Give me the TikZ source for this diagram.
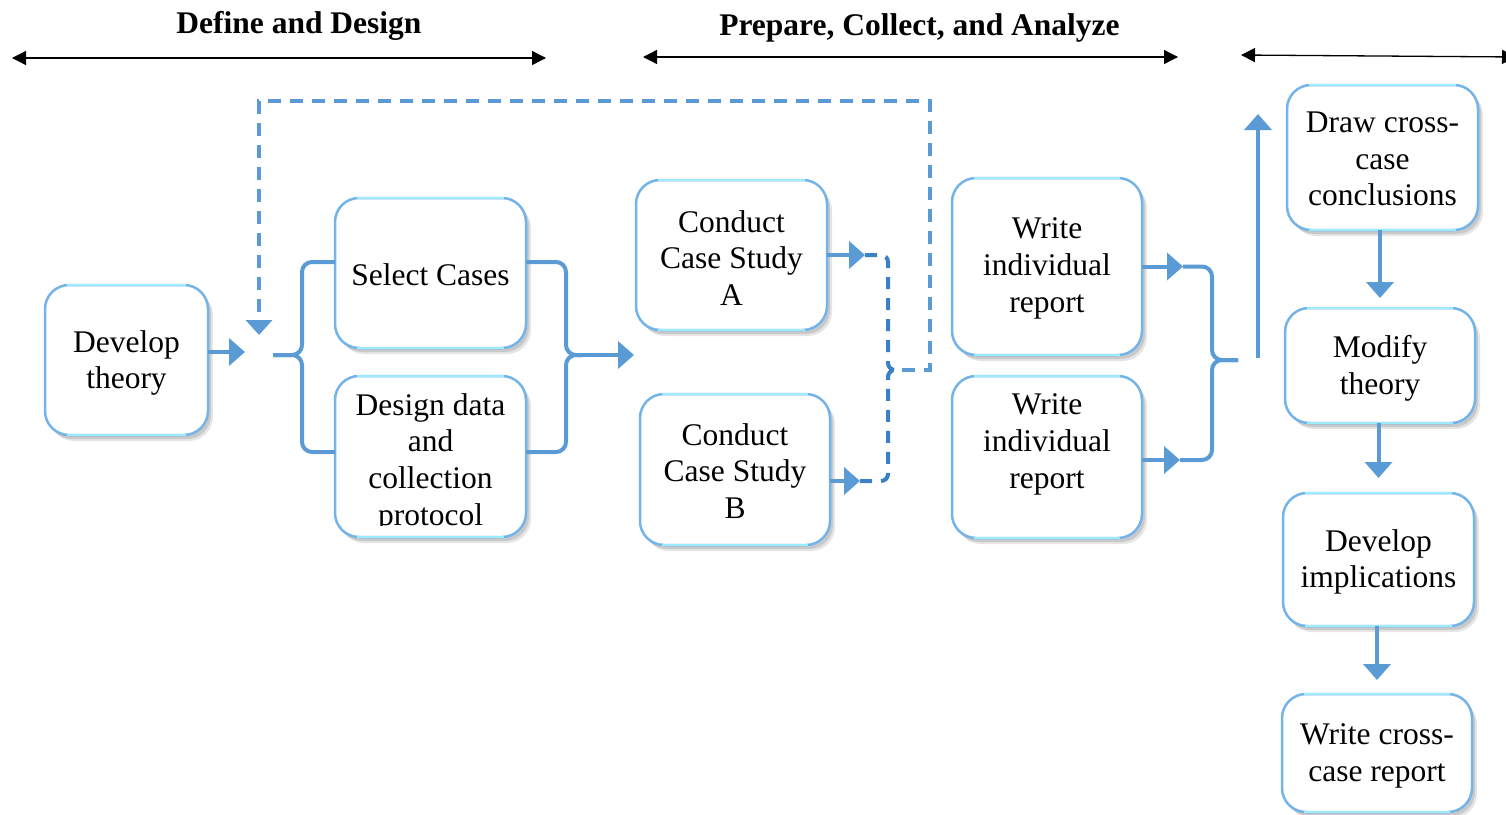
\documentclass[tikz,border=0pt]{standalone}
\usepackage{fontspec}
\setmainfont{Liberation Serif}
\usetikzlibrary{arrows.meta,shadows,calc}
\definecolor{boxc}{HTML}{74B4E8}
\definecolor{boxtop}{HTML}{9CEBFD}
\definecolor{linec}{HTML}{5B9BD5}
\definecolor{darkdash}{HTML}{3B7FC4}
\begin{document}
\begin{tikzpicture}[x=1pt,y=-1pt,
  box/.style={draw=boxc, line width=2.5pt, rounded corners=24pt, fill=white,
    inner sep=0pt, outer sep=0pt, align=center, font=\fontsize{31.5}{37}\selectfont,
    drop shadow={shadow xshift=3pt,shadow yshift=-4pt,opacity=0.12,fill=black},
    drop shadow={shadow xshift=5pt,shadow yshift=-6pt,opacity=0.10,fill=black}},
  txt/.style={inner sep=0pt, align=center, font=\fontsize{31.5}{36.7}\selectfont},
  hdr/.style={inner sep=0pt, font=\bfseries\fontsize{31.5}{37}\selectfont},
  harrow/.style={line width=1.3pt, {Triangle[length=14pt,width=14pt]}-{Triangle[length=14pt,width=14pt]}},
  arr/.style={draw=linec, line width=4pt, -{Triangle[length=16pt,width=27pt]}},
  brace/.style={draw=linec, line width=4pt, rounded corners=10pt},
  dbrace/.style={draw=darkdash, line width=4pt, rounded corners=7pt, dash pattern=on 12pt off 9pt},
  dashline/.style={draw=linec, line width=4pt, dash pattern=on 13pt off 9pt},
  edgehi/.style={draw=boxtop, line width=2.5pt}
]
\useasboundingbox (0,0) rectangle (1506,814);
\clip (0,0) rectangle (1506,814);

% headers
\node[hdr] (h1) at (299,25.5) {Define and Design};
\node[hdr] (h2) at (919.5,27.5) {Prepare, Collect, and Analyze};
\coordinate (a1l) at (12,58);   \coordinate (a1r) at (546,58);
\coordinate (a2l) at (643,57);  \coordinate (a2r) at (1178,57);
\coordinate (a3l) at (1241,55); \coordinate (a3r) at (1516,57);
\draw[harrow] (a1l) -- (a1r);
\draw[harrow] (a2l) -- (a2r);
\draw[harrow] (a3l) -- (a3r);

% boxes
\node[box, minimum width=163pt, minimum height=150pt] (dev) at (126.5,360) {};
\node[txt] (devt) at (126.5,363) {Develop\\theory};
\node[box, minimum width=191pt, minimum height=150pt] (sel) at (430.5,273) {};
\node[txt] (selt) at (430.5,275) {Select Cases};
\node[box, minimum width=191pt, minimum height=161pt] (des) at (430.5,456.5) {};
\begin{scope}
  \clip (336,378) rectangle (525,525);
  \node[txt] (dest) at (430.5,462.6) {Design data\\and\\collection\\protocol};
\end{scope}
\node[box, minimum width=191pt, minimum height=150pt] (csa) at (731.5,255) {};
\node[txt] (csat) at (731.5,258) {Conduct\\Case Study\\A};
\node[box, minimum width=190pt, minimum height=151pt] (csb) at (735,469.5) {};
\node[txt] (csbt) at (735,471) {Conduct\\Case Study\\B};
\node[box, minimum width=190pt, minimum height=177pt] (wr1) at (1047,266.5) {};
\node[txt] (wr1t) at (1047,268.5) {Write\\individual\\report};
\node[box, minimum width=190pt, minimum height=162pt] (wr2) at (1047,457) {};
\node[txt] (wr2t) at (1047,444.5) {Write\\individual\\report};
\node[box, minimum width=191pt, minimum height=145pt] (dcc) at (1382.5,157.5) {};
\node[txt] (dcct) at (1382.5,159) {Draw cross-\\case\\conclusions};
\node[box, minimum width=190pt, minimum height=115pt] (mod) at (1380,365.5) {};
\node[txt] (modt) at (1380,368) {Modify\\theory};
\node[box, minimum width=191pt, minimum height=133pt] (imp) at (1378.5,559.5) {};
\node[txt] (impt) at (1378.5,562) {Develop\\implications};
\node[box, minimum width=190pt, minimum height=118pt] (wcr) at (1377,753) {};
\node[txt] (wcrt) at (1377,756) {Write cross-\\case report};

% cyan highlight on top and bottom edges
\foreach \n in {dev,sel,des,csa,csb,wr1,wr2,dcc,mod,imp,wcr}{
  \draw[edgehi] ($(\n.north west)+(22,0)$) -- ($(\n.north east)+(-22,0)$);
  \draw[edgehi] ($(\n.south west)+(22,0)$) -- ($(\n.south east)+(-22,0)$);
}

% develop theory arrow
\draw[arr] ($(dev.east)+(0,-8)$) -- ++(37,0);

% left brace
\coordinate (lbt) at (273,355);
\draw[brace] ($(sel.west)+(0,-11)$) -- (302,262) -- (302,355) -- (lbt);
\draw[brace] ($(des.west)+(0,-4.5)$) -- (302,452) -- (302,355) -- (lbt);

% right brace
\coordinate (rbt) at (582,355);
\coordinate (rbe) at (634,355);
\draw[brace] ($(sel.east)+(0,-11)$) -- (566,262) -- (566,355) -- (rbt);
\draw[brace] ($(des.east)+(0,-4.5)$) -- (566,452) -- (566,355) -- (rbt);
\draw[arr] (rbt) -- (rbe);

% case study arrows
\draw[arr] (csa.east) -- ++(38,0) coordinate (aout);
\draw[arr] ($(csb.east)+(0,11.5)$) -- ++(30,0) coordinate (bout);

% dashed brace and feedback
\coordinate (dtip) at (902,370);
\coordinate (dend) at (259,335);
\draw[dbrace] (aout) -- (888,255) -- (888,370) -- (dtip);
\draw[dbrace] (bout) -- (888,481) -- (888,370) -- (dtip);
\draw[dashline, -{Triangle[length=15pt,width=26pt]}] (dtip) -- (930,370) -- (930,101) -- (259,101) -- (dend);

% write report arrows
\draw[arr] (wr1.east) -- ++(41,0) coordinate (w1o);
\draw[arr] ($(wr2.east)+(0,3)$) -- ++(38,0) coordinate (w2o);
\coordinate (rb2) at (1238,360);
\draw[brace] (w1o) -- (1212,266.5) -- (1212,360) -- (rb2);
\draw[brace] (w2o) -- (1212,460) -- (1212,360) -- (rb2);

% upward arrow
\coordinate (ub) at (1258,358);
\coordinate (ut) at (1258,114);
\draw[arr] (ub) -- (ut);

% downward arrows
\draw[arr] (mod.north |- dcc.south) -- ++(0,68);
\draw[arr] (imp.north |- mod.south) -- ++(0,55);
\draw[arr] (wcr.north |- imp.south) -- ++(0,54);
\end{tikzpicture}
\end{document}
